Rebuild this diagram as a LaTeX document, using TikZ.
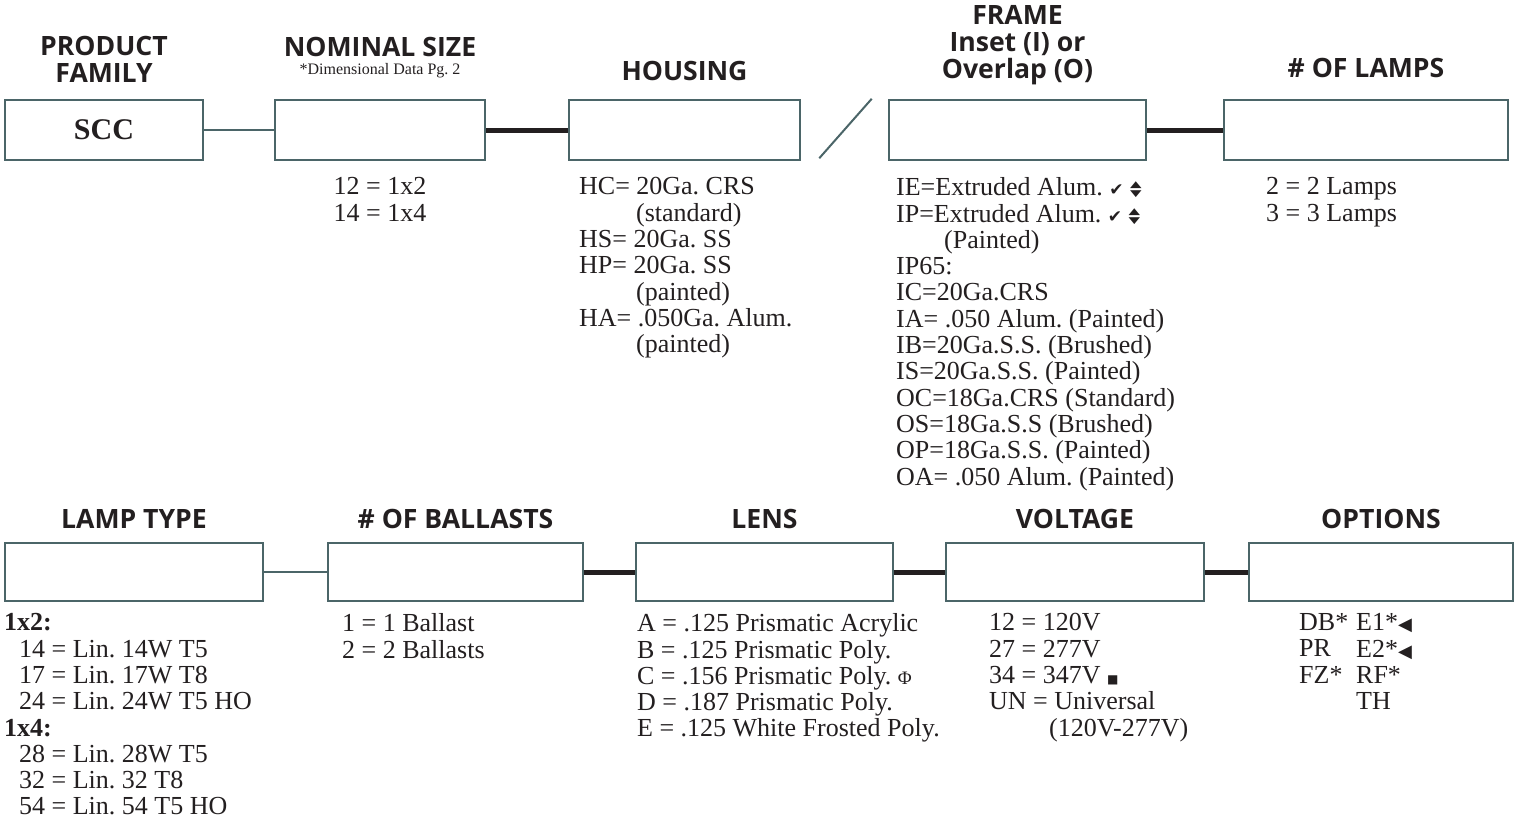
\documentclass[tikz,border=0pt]{standalone}
\usepackage{fontspec}
\usepackage{graphicx}
\setmainfont{Liberation Serif}
\newfontfamily\headfont{Open Sans}
\newfontfamily\symfont{DejaVu Sans}
\usetikzlibrary{positioning}
\definecolor{boxcol}{RGB}{75,101,104}
\definecolor{ink}{RGB}{35,31,32}
\frenchspacing
\newcommand{\chk}{{\symfont\fontsize{8.5}{8.5}\selectfont ✔}}
\newcommand{\updn}{{\symfont\fontsize{7.5}{7.5}\selectfont\makebox[0pt][l]{\raisebox{4pt}{\scalebox{1}[0.6]{▲}}}\raisebox{-0.6pt}{\scalebox{1}[0.6]{▼}}}}
\newcommand{\tri}{{\symfont\fontsize{9}{9}\selectfont ◀}}
\newcommand{\sqr}{{\symfont\fontsize{6}{6}\selectfont ■}}

\begin{document}
\begin{tikzpicture}[
  x=0.5pt, y=-0.5pt,
  box/.style={draw=boxcol, line width=1.25pt, minimum height=30pt, inner sep=0pt},
  head/.style={font=\headfont\bfseries\fontsize{13.3}{13.5}\selectfont, text=ink, align=center, inner sep=0pt},
  list/.style={font=\fontsize{13}{13.15}\selectfont, text=ink, align=left, inner sep=0pt},
  thin/.style={draw=boxcol, line width=1pt},
  thick/.style={draw=ink, line width=2.5pt}
]
\useasboundingbox (0,0) rectangle (1517,821);

\node[box, minimum width=99pt, font=\bfseries\fontsize{15}{15}\selectfont, text=ink] (scc) at (104,130) {SCC};
\node[box, minimum width=105pt] (nom) at (380,130) {};
\node[box, minimum width=115.5pt] (hous) at (684.5,130) {};
\node[box, minimum width=128.5pt] (frame) at (1017.5,130) {};
\node[box, minimum width=142pt] (lamps) at (1366,130) {};

\node[head, above=8pt of scc] (famh) {PRODUCT\\FAMILY};
\node[list, font=\fontsize{8}{9}\selectfont, above=10pt of nom] (nomsub) {*Dimensional Data Pg.~2};
\node[head, above=3pt of nomsub] (nomh) {NOMINAL SIZE};
\node[head, above=9pt of hous] (housh) {HOUSING};
\node[head, above=6.5pt of frame] (frameh) {FRAME\\Inset (I) or\\Overlap (O)};
\node[head, above=10.5pt of lamps] (lampsh) {\# OF LAMPS};

\draw[thin] (scc) -- (nom);
\draw[thick] (nom) -- (hous);
\draw[thin] ([xshift=9pt,yshift=1.5pt]hous.south east) -- ([xshift=-8pt]frame.north west);
\draw[thick] (frame) -- (lamps);

\node[list, below=8pt of nom] (nomlist) {12 = 1x2\\14 = 1x4};
\node[list, below right=8pt and 5.5pt of hous.south west] (houslist) {HC= 20Ga. CRS\\\hspace*{28.5pt}(standard)\\HS= 20Ga. SS\\HP= 20Ga. SS\\\hspace*{28.5pt}(painted)\\HA= .050Ga. Alum.\\\hspace*{28.5pt}(painted)};
\node[list, below right=8pt and 4pt of frame.south west] (framelist) {IE=Extruded Alum. \chk\ \updn\\IP=Extruded Alum. \chk\ \updn\\\hspace*{24pt}(Painted)\\IP65:\\IC=20Ga.CRS\\IA= .050 Alum. (Painted)\\IB=20Ga.S.S. (Brushed)\\IS=20Ga.S.S. (Painted)\\OC=18Ga.CRS (Standard)\\OS=18Ga.S.S (Brushed)\\OP=18Ga.S.S. (Painted)\\OA= .050 Alum. (Painted)};
\node[list, below right=8pt and 21.5pt of lamps.south west] (lampslist) {2 = 2 Lamps\\3 = 3 Lamps};

\node[box, minimum width=129pt, minimum height=29pt] (ltype) at (134,572) {};
\node[box, minimum width=127.5pt, minimum height=29pt] (ball) at (455.5,572) {};
\node[box, minimum width=128.5pt, minimum height=29pt] (lens) at (764.5,572) {};
\node[box, minimum width=129pt, minimum height=29pt] (volt) at (1075,572) {};
\node[box, minimum width=132pt, minimum height=29pt] (opts) at (1381,572) {};

\node[head, above=6.5pt of ltype] (ltypeh) {LAMP TYPE};
\node[head, above=6.5pt of ball] (ballh) {\# OF BALLASTS};
\node[head, above=6.5pt of lens] (lensh) {LENS};
\node[head, above=6.5pt of volt] (volth) {VOLTAGE};
\node[head, above=6.5pt of opts] (optsh) {OPTIONS};

\draw[thin] (ltype) -- (ball);
\draw[thick] (ball) -- (lens);
\draw[thick] (lens) -- (volt);
\draw[thick] (volt) -- (opts);

\node[list, below right=5.5pt and 0pt of ltype.south west] (ltypelist) {\textbf{1x2:}\\\hspace*{7.5pt}14 = Lin. 14W T5\\\hspace*{7.5pt}17 = Lin. 17W T8\\\hspace*{7.5pt}24 = Lin. 24W T5 HO\\\textbf{1x4:}\\\hspace*{7.5pt}28 = Lin. 28W T5\\\hspace*{7.5pt}32 = Lin. 32 T8\\\hspace*{7.5pt}54 = Lin. 54 T5 HO};
\node[list, below right=5.5pt and 7.5pt of ball.south west] (balllist) {1 = 1 Ballast\\2 = 2 Ballasts};
\node[list, below right=5.5pt and 1pt of lens.south west] (lenslist) {A = .125 Prismatic Acrylic\\B = .125 Prismatic Poly.\\C = .156 Prismatic Poly. {\fontsize{9.5}{9.5}\selectfont Φ}\\D = .187 Prismatic Poly.\\E = .125 White Frosted Poly.};
\node[list, below right=5.5pt and 22pt of volt.south west] (voltlist) {12 = 120V\\27 = 277V\\34 = 347V \sqr\\UN = Universal\\\hspace*{30pt}(120V-277V)};
\node[list, below right=5.5pt and 25.5pt of opts.south west] (optsa) {DB*\\PR\\FZ*};
\node[list, below right=5.5pt and 54pt of opts.south west] (optsb) {E1*\tri\\E2*\tri\\RF*\\TH};
\end{tikzpicture}
\end{document}
